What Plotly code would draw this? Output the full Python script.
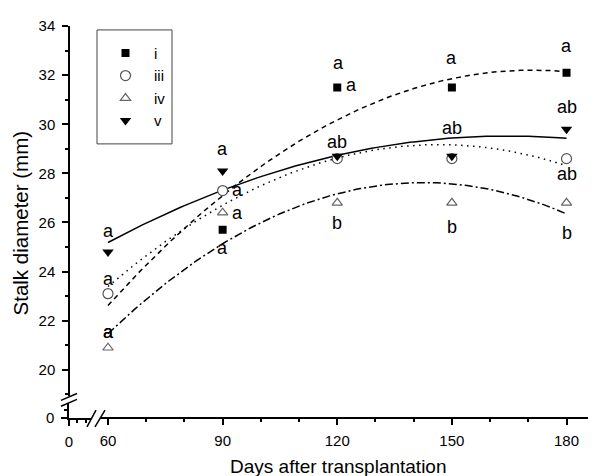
import numpy as np
import plotly.graph_objects as go

# ---------------- data ----------------
days = [60, 90, 120, 150, 180]
series_names = ["i", "iii", "iv", "v"]
vals_i = [23.1, 25.7, 31.5, 31.5, 32.1]
vals_iii = [23.1, 27.3, 28.6, 28.6, 28.6]
vals_iv = [20.9, 26.4, 26.8, 26.8, 26.8]
vals_v = [24.8, 28.1, 28.7, 28.7, 29.8]

# significance letters (x, y, text)
label_x = [60, 60, 60, 60,
           90, 94, 94, 90,
           120.3, 123.6, 120, 120,
           150, 150, 150,
           180, 180, 180, 180]
label_y = [25.64, 23.68, 21.53, 21.53,
           29.01, 27.32, 26.39, 24.96,
           32.49, 31.6, 29.29, 25.96,
           32.69, 29.85, 25.83,
           33.19, 30.69, 27.96, 25.56]
label_text = ["a", "a", "a", "a",
              "a", "a", "a", "a",
              "a", "a", "ab", "b",
              "a", "ab", "b",
              "a", "ab", "ab", "b"]

y_ticks = [20, 22, 24, 26, 28, 30, 32, 34]
x_ticks = [60, 90, 120, 150, 180]

# ---------------- geometry helpers (screen pixels) ----------------
W, H = 596, 476
OFF = 8  # page body margin
ML, MT = 69 - OFF, 19 - OFF
MR = W - (595 - OFF)
MB = H - (418 - OFF)
PW, PH = W - ML - MR, H - MT - MB


def fx(px):
    return (px - OFF - ML) / PW


def fy(py):
    return (H - MB - (py - OFF)) / PH


FONT = "Liberation Sans, Arial, sans-serif"

fig = go.Figure()

# fitted quadratic curves
x_fit = np.linspace(60, 180, 121)
dashes = {"i": "5px,4px", "iii": "1.5px,4.5px", "iv": "8px,3px,2px,3px", "v": "solid"}
all_vals = {"i": vals_i, "iii": vals_iii, "iv": vals_iv, "v": vals_v}
for name in series_names:
    coef = np.polyfit(days, all_vals[name], 2)
    fig.add_trace(go.Scatter(
        x=x_fit, y=np.polyval(coef, x_fit), mode="lines",
        line=dict(color="black", width=1.5, dash=dashes[name]),
        showlegend=False, hoverinfo="skip"))

markers = {
    "i": dict(symbol="square", size=8, color="black", line=dict(width=0)),
    "iii": dict(symbol="circle", size=10, color="white", line=dict(width=1.2, color="#555")),
    "iv": dict(symbol="triangle-up", size=9, color="white", line=dict(width=1.2, color="#666")),
    "v": dict(symbol="triangle-down", size=10, color="black", line=dict(width=0)),
}
for name in series_names:
    fig.add_trace(go.Scatter(x=days, y=all_vals[name], mode="markers",
                             name=name, marker=markers[name]))

# dummy trace for the broken-axis stub
fig.add_trace(go.Scatter(x=[None], y=[None], xaxis="x2", yaxis="y2",
                         showlegend=False, hoverinfo="skip"))

for lx, ly, lt in zip(label_x, label_y, label_text):
    fig.add_annotation(x=lx, y=ly, text=lt, showarrow=False,
                       xanchor="center", yanchor="middle",
                       font=dict(size=18, color="black", family=FONT))

# axis titles
fig.add_annotation(xref="paper", yref="paper", x=fx(338), y=fy(467),
                   xanchor="center", yanchor="middle",
                   text="Days after transplantation", showarrow=False,
                   font=dict(size=19, color="black", family=FONT))
fig.add_annotation(xref="paper", yref="paper", x=fx(20), y=fy(220),
                   xanchor="center", yanchor="middle",
                   text="Stalk diameter (mm)", showarrow=False, textangle=-90,
                   font=dict(size=20.5, color="black", family=FONT))

# break marks
for (x0, y0, x1, y1) in [(61, 406, 77, 399), (61, 400, 77, 393),
                         (87, 427, 96, 410), (95, 427, 105, 410)]:
    fig.add_shape(type="line", xref="paper", yref="paper",
                  x0=fx(x0), y0=fy(y0), x1=fx(x1), y1=fy(y1),
                  line=dict(color="black", width=1.5))

# legend frame
fig.add_shape(type="rect", xref="paper", yref="paper",
              x0=fx(97), y0=fy(139), x1=fx(172), y1=fy(23),
              line=dict(color="#444", width=1), fillcolor="rgba(0,0,0,0)",
              layer="above")

sx = 3.821  # px per day
sy = 25.0   # px per mm
axis_common = dict(showline=True, linecolor="black", linewidth=1.5,
                   ticks="outside", ticklen=6, tickwidth=1.5, tickcolor="black",
                   showgrid=False, zeroline=False,
                   tickfont=dict(size=15, color="black", family=FONT))

fig.update_layout(
    width=W, height=H,
    margin=dict(l=ML, r=MR, t=MT, b=MB),
    paper_bgcolor="white", plot_bgcolor="white",
    font=dict(family=FONT, color="black"),
    xaxis=dict(domain=[fx(100), 1], anchor="free", position=0,
               range=[60 - 8 / sx, 60 + 487 / sx],
               tickmode="array", tickvals=x_ticks, ticklabelstandoff=3,
               minor=dict(tickmode="linear", tick0=0, dtick=10, ticklen=3,
                          tickwidth=1.5, tickcolor="black", ticks="outside"),
               **axis_common),
    yaxis=dict(domain=[fy(396), 1], anchor="free", position=0,
               range=[34 - 377 / sy, 34],
               tickmode="array", tickvals=y_ticks, ticklabelstandoff=4,
               minor=dict(tickmode="linear", tick0=0, dtick=1, ticklen=3,
                          tickwidth=1.5, tickcolor="black", ticks="outside"),
               **axis_common),
    xaxis2=dict(domain=[0, fx(91)], anchor="y2", range=[0, 22 / 0.826],
                tickmode="array", tickvals=[0], ticklabelstandoff=3,
                minor=dict(tickmode="array", tickvals=[10, 20], ticklen=3,
                           tickwidth=1.5, tickcolor="black", ticks="outside"),
                **axis_common),
    yaxis2=dict(domain=[0, fy(403)], anchor="x2", range=[0, 15 / 0.8],
                tickmode="array", tickvals=[0], ticklabelstandoff=4,
                minor=dict(tickmode="array", tickvals=[10], ticklen=3,
                           tickwidth=1.5, tickcolor="black", ticks="outside"),
                **axis_common),
    legend=dict(x=fx(97), y=fy(30), xanchor="left", yanchor="top",
                borderwidth=0, bgcolor="rgba(0,0,0,0)",
                font=dict(size=15, color="black", family=FONT),
                itemwidth=47),
    showlegend=True,
)

fig.write_html("out.html")
